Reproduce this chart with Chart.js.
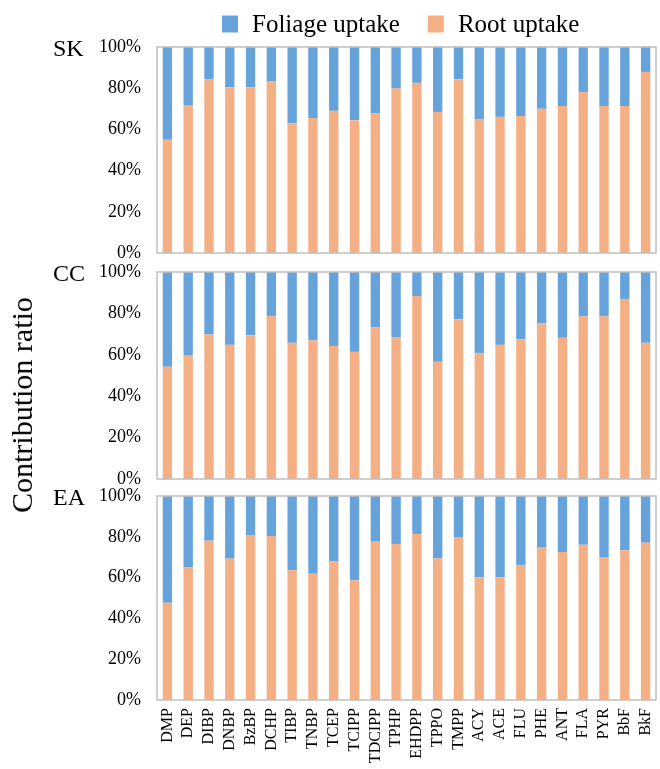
<!DOCTYPE html>
<html><head><meta charset="utf-8">
<script src="https://cdn.jsdelivr.net/npm/chart.js@4.4.1/dist/chart.umd.min.js"></script>
<style>
html,body{margin:0;padding:0;background:#fff;width:660px;height:769px;overflow:hidden;position:relative;}
canvas{position:absolute;left:0;}
#ytitle{position:absolute;font-family:'Liberation Serif',serif;font-size:30px;left:22px;top:405px;transform:translate(-50%,-50%) rotate(-90deg);white-space:nowrap;color:#000;z-index:5;}
</style></head><body>
<canvas id="c1" width="660" height="262" style="top:0px;width:660px;height:262px"></canvas>
<canvas id="c2" width="660" height="227" style="top:262px;width:660px;height:227px"></canvas>
<canvas id="c3" width="660" height="287" style="top:482px;width:660px;height:287px"></canvas>
<div id="ytitle">Contribution ratio</div>
<script>
const categories = ['DMP','DEP','DIBP','DNBP','BzBP','DCHP','TIBP','TNBP','TCEP','TCIPP','TDCIPP','TPHP','EHDPP','TPPO','TMPP','ACY','ACE','FLU','PHE','ANT','FLA','PYR','BbF','BkF'];
const panels = ['SK','CC','EA'];
const yTicks = [0,20,40,60,80,100];

const rootSK = [55, 71.5, 84.5, 80.5, 80.5, 83.5, 63, 65.5, 69, 64.5, 67.8, 79.8, 82.6, 68.5, 84.4, 64.8, 66.1, 66.5, 70, 71.3, 78.2, 71.3, 71.3, 87.9];
const foliageSK = [45, 28.5, 15.5, 19.5, 19.5, 16.5, 37, 34.5, 31, 35.5, 32.2, 20.2, 17.4, 31.5, 15.6, 35.2, 33.9, 33.5, 30, 28.7, 21.8, 28.7, 28.7, 12.1];

const rootCC = [54.2, 59.6, 69.8, 64.8, 69.5, 78.8, 65.8, 67, 64.3, 61.4, 73.2, 68.6, 88.4, 56.6, 77.2, 60.9, 64.8, 67.5, 75.2, 68.2, 78.6, 78.6, 87, 65.8];
const foliageCC = [45.8, 40.4, 30.2, 35.2, 30.5, 21.2, 34.2, 33, 35.7, 38.6, 26.8, 31.4, 11.6, 43.4, 22.8, 39.1, 35.2, 32.5, 24.8, 31.8, 21.4, 21.4, 13, 34.2];

const rootEA = [47.7, 65.2, 78.1, 69.3, 80.9, 80.4, 63.6, 61.9, 68, 58.7, 77.6, 76.5, 81.4, 69.4, 79.9, 60.1, 60.1, 66.2, 74.7, 72.5, 76.1, 69.8, 73.4, 77.1];
const foliageEA = [52.3, 34.8, 21.9, 30.7, 19.1, 19.6, 36.4, 38.1, 32, 41.3, 22.4, 23.5, 18.6, 30.6, 20.1, 39.9, 39.9, 33.8, 25.3, 27.5, 23.9, 30.2, 26.6, 22.9];

const seriesNames = {foliage:'Foliage uptake', root:'Root uptake'};
const colors = {foliage:'#66A3DA', root:'#F4B084'};
const FONT = "'Liberation Serif', 'DejaVu Serif', serif";

const boxPlugin = {
  id:'boxPlugin',
  afterDatasetsDraw(chart){
    const a = chart.chartArea, ctx = chart.ctx;
    ctx.save();
    ctx.strokeStyle = '#BFBFBF';
    ctx.lineWidth = 1.5;
    ctx.strokeRect(a.left, a.top, a.right - a.left, a.bottom - a.top);
    ctx.restore();
  },
  afterDraw(chart, args, opts){
    const a = chart.chartArea, ctx = chart.ctx;
    ctx.save();
    ctx.fillStyle = '#000';
    ctx.font = '24px ' + FONT;
    ctx.textBaseline = 'middle';
    ctx.textAlign = 'left';
    ctx.fillText(opts.text, 53, a.top + 3);
    if (opts.legend) {
      const items = [chart.data.datasets[1], chart.data.datasets[0]];
      ctx.font = '25px ' + FONT;
      const bw = 16, gapT = 14, gapI = 28;
      const widths = items.map(d => ctx.measureText(d.label).width);
      let x = 222;
      const yc = a.top - 23;
      items.forEach((d,i)=>{
        ctx.fillStyle = d.backgroundColor;
        ctx.fillRect(x, yc - 8.5, bw, 17);
        ctx.fillStyle = '#000';
        ctx.fillText(d.label, x + bw + gapT, yc + 1);
        x += bw + gapT + widths[i] + gapI;
      });
    }
    ctx.restore();
  }
};

function makeChart(id, root, foliage, label, opts){
  const xScale = {
    stacked:true,
    display: !!opts.showX,
    grid:{display:false, drawTicks:false},
    border:{display:false},
    ticks:{font:{family:FONT, size:16}, color:'#000', maxRotation:90, minRotation:90, autoSkip:false, padding:8}
  };
  if (opts.showX) {
    xScale.afterFit = function(s){ s.height = 69; s.paddingLeft = 0; s.paddingRight = 0; };
  }
  return new Chart(document.getElementById(id), {
    type:'bar',
    data:{
      labels: categories,
      datasets:[
        {label: seriesNames.root, data: root, backgroundColor: colors.root, stack:'s', categoryPercentage:1, barPercentage:0.45},
        {label: seriesNames.foliage, data: foliage, backgroundColor: colors.foliage, stack:'s', categoryPercentage:1, barPercentage:0.45}
      ]
    },
    options:{
      responsive:false,
      animation:false,
      layout:{padding:{left:0, right:4, top:opts.top, bottom:opts.bottom}},
      plugins:{
        legend:{display:false},
        tooltip:{enabled:false},
        boxPlugin:{text:label, legend:!!opts.legend}
      },
      scales:{
        x: xScale,
        y:{
          stacked:true,
          min:0, max:100,
          afterBuildTicks(s){ s.ticks = yTicks.map(v=>({value:v})); },
          grid:{display:false, drawTicks:false},
          border:{display:false},
          ticks:{font:{family:FONT, size:18}, color:'#000', padding:16, autoSkip:false, callback:v=>v+'%'},
          afterFit(s){ s.width = 157; s.paddingTop = 0; s.paddingBottom = 0; }
        }
      }
    },
    plugins:[boxPlugin]
  });
}

makeChart('c1', rootSK, foliageSK, panels[0], {top:47, bottom:9, legend:true});
makeChart('c2', rootCC, foliageCC, panels[1], {top:10, bottom:10});
makeChart('c3', rootEA, foliageEA, panels[2], {top:14, bottom:0, showX:true});
</script>
</body></html>
